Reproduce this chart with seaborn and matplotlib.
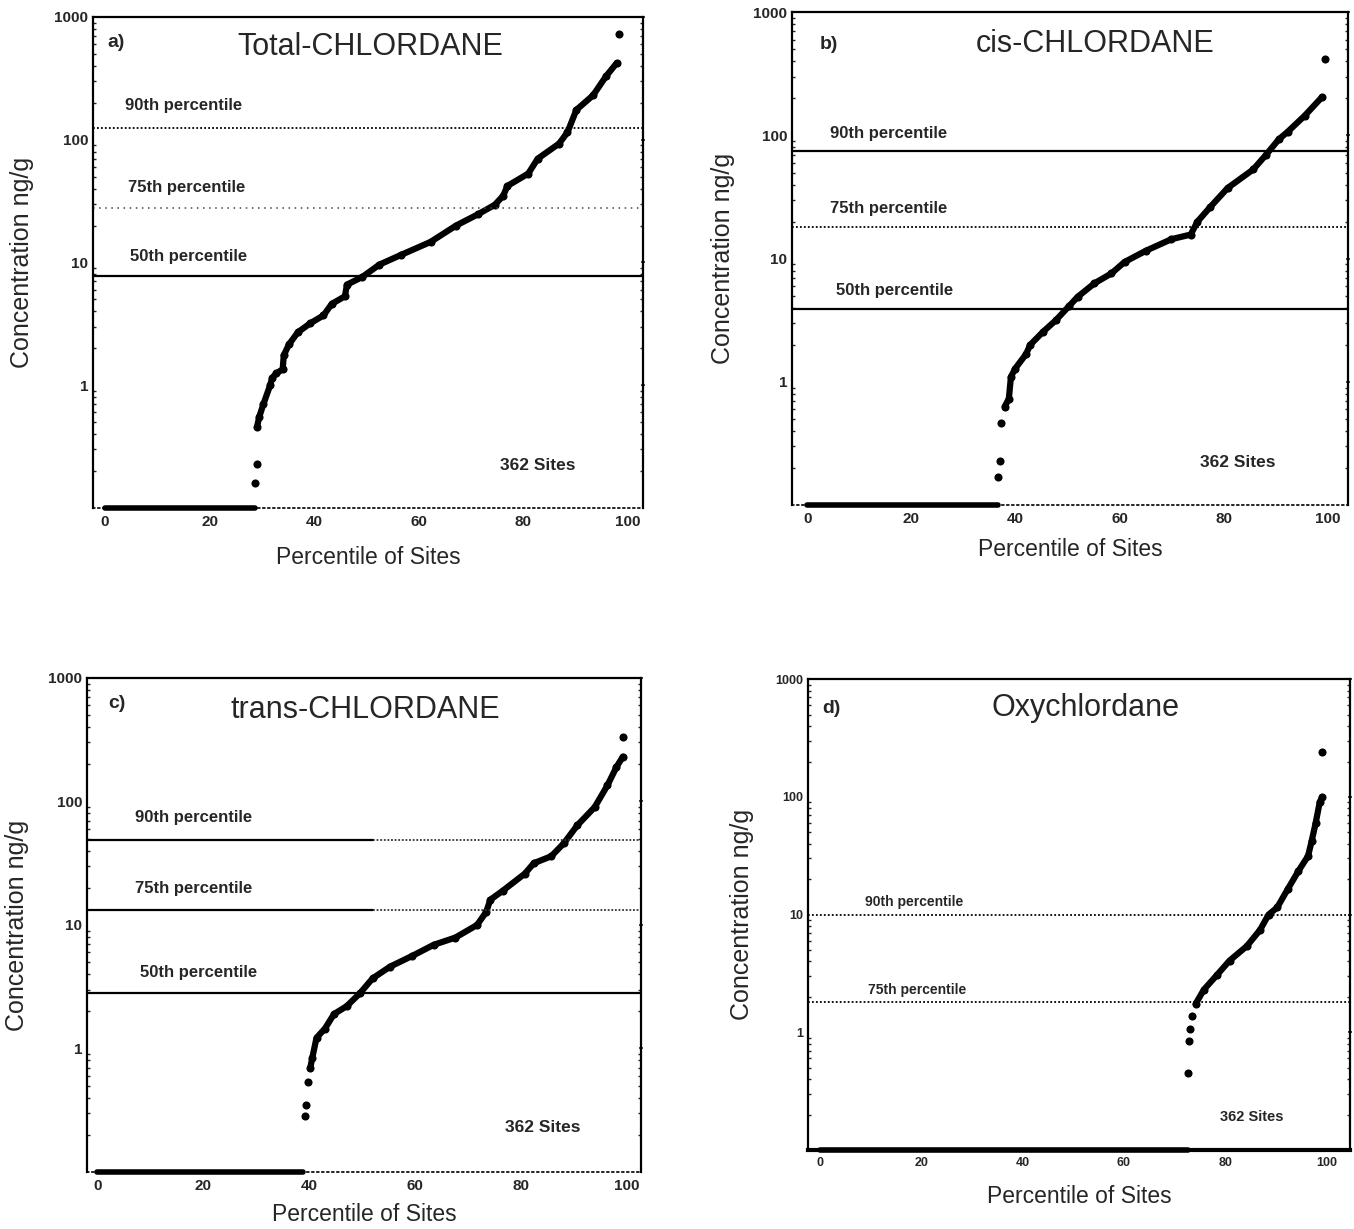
import seaborn as sns
import matplotlib.pyplot as plt
import pandas as pd

sns.set_theme(style="white")
plt.rcParams['font.family'] = ['Liberation Sans', 'DejaVu Sans']

# rank percentile vs concentration (ng/g)
# a) Total-CHLORDANE
nd_a = 28.7
iso_pct_a = [28.7, 29.1]
iso_conc_a = [0.16, 0.23]
pct_a = [29.1, 29.5, 30.3, 31.6, 32, 32.8, 34, 34.2, 35.2, 36.9, 39.3, 41.8, 43.4, 45.9, 46.3,
         49.2, 52.5, 56.6, 62.3, 67.2, 71.3, 74.6, 76.2, 77, 81, 82.8, 86.9, 88.5, 90.2, 93.4,
         95.9, 97.9]
conc_a = [0.46, 0.55, 0.7, 1.0, 1.15, 1.25, 1.35, 1.75, 2.15, 2.7, 3.2, 3.7, 4.6, 5.3, 6.6,
          7.6, 9.6, 11.5, 14.7, 20, 24.6, 29.5, 35, 42, 53, 70, 93, 115, 175, 230, 330, 420]
top_a = (98.4, 730)
lines_a = [125, 27.7, 7.7]

# b) cis-CHLORDANE
nd_b = 36.6
iso_pct_b = [36.6, 37, 37.2]
iso_conc_b = [0.169, 0.23, 0.46]
pct_b = [37.9, 38.7, 39.1, 39.9, 42, 42.8, 45.3, 47.7, 50.2, 51.9, 55.1, 58.4, 60.9, 65, 69.9,
         73.6, 74.9, 77.4, 80.7, 85.6, 88.1, 90.5, 92.2, 95.5, 98.8]
conc_b = [0.63, 0.73, 1.1, 1.28, 1.68, 2.0, 2.56, 3.16, 4.1, 4.9, 6.3, 7.6, 9.4, 11.6, 14.4,
          15.7, 20, 26.4, 37.5, 53, 70, 93, 107, 145, 205]
top_b = (99.3, 420)
lines_b = [75, 18.2, 3.9]

# c) trans-CHLORDANE
nd_c = 38.9
iso_pct_c = [39.2, 39.5, 39.8]
iso_conc_c = [0.286, 0.35, 0.54]
pct_c = [40.2, 40.6, 41.4, 43, 44.7, 47.1, 49.6, 52, 55.3, 59.4, 63.5, 67.6, 71.7, 73.4, 74.2,
         76.6, 80.7, 82.4, 85.7, 88.1, 90.6, 93.9, 96.3, 98, 99.2]
conc_c = [0.69, 0.84, 1.22, 1.45, 1.9, 2.2, 2.8, 3.7, 4.6, 5.6, 6.9, 7.9, 10, 12.7, 16,
          19, 26, 31.6, 36, 46, 64, 90, 135, 190, 230]
top_c = (99.2, 330)
lines_c = [49, 13.3, 2.8]

# d) Oxychlordane
nd_d = 72.7
iso_pct_d = [72.7, 72.9, 73.1, 73.5]
iso_conc_d = [0.45, 0.84, 1.07, 1.37]
pct_d = [74.2, 75.8, 78.4, 80.9, 84.3, 86.9, 88.6, 90.3, 92.4, 94.5, 96.4, 97.1, 97.9, 98.7, 99.2]
conc_d = [1.75, 2.3, 3.07, 4.07, 5.4, 7.4, 10, 11.5, 16.5, 23.5, 31.5, 42, 60, 90, 100]
top_d = (99.2, 240)
lines_d = [10, 1.8]

titles = ["Total-CHLORDANE", "cis-CHLORDANE", "trans-CHLORDANE", "Oxychlordane"]
tags = ["a)", "b)", "c)", "d)"]
line_names = ["90th percentile", "75th percentile", "50th percentile"]
yticks = [1, 10, 100, 1000]
ytick_labels = ["1", "10", "100", "1000"]
xticks = [0, 20, 40, 60, 80, 100]

fig = plt.figure(figsize=(13.54, 12.29), dpi=100)

panels = [
    dict(rect=[0.0687, 0.5867, 0.406, 0.3995], xlim=(-2.3, 102.9), nd=nd_a,
         iso=(iso_pct_a, iso_conc_a), main=(pct_a, conc_a), top=top_a, lines=lines_a,
         styles=["dot", "sparse", "solid"], split=None,
         label_pos=[(0.058, 0.819), (0.064, 0.652), (0.067, 0.513)], sites=(0.74, 0.086),
         tag=(0.027, 0.949), title=(0.504, 0.939), ylab=-0.108, xlab=-0.077, fs=12, tfs=11),
    dict(rect=[0.585, 0.589, 0.4106, 0.401], xlim=(-2.9, 103.8), nd=nd_b,
         iso=(iso_pct_b, iso_conc_b), main=(pct_b, conc_b), top=top_b, lines=lines_b,
         styles=["solid", "dot", "solid"], split=None,
         label_pos=[(0.068, 0.755), (0.068, 0.602), (0.079, 0.436)], sites=(0.734, 0.087),
         tag=(0.05, 0.935), title=(0.545, 0.935), ylab=-0.103, xlab=-0.067, fs=12, tfs=11),
    dict(rect=[0.0643, 0.0464, 0.409, 0.402], xlim=(-1.9, 102.6), nd=nd_c,
         iso=(iso_pct_c, iso_conc_c), main=(pct_c, conc_c), top=top_c, lines=lines_c,
         styles=["split", "split", "solid"], split=52,
         label_pos=[(0.087, 0.717), (0.087, 0.573), (0.096, 0.403)], sites=(0.755, 0.091),
         tag=(0.038, 0.949), title=(0.502, 0.935), ylab=-0.105, xlab=-0.063, fs=12, tfs=11),
    dict(rect=[0.5968, 0.0643, 0.4003, 0.383], xlim=(-2.4, 104.7), nd=nd_d,
         iso=(iso_pct_d, iso_conc_d), main=(pct_d, conc_d), top=top_d, lines=lines_d,
         styles=["dot", "dot"], split=None,
         label_pos=[(0.105, 0.527), (0.11, 0.34)], sites=(0.76, 0.07),
         tag=(0.026, 0.938), title=(0.511, 0.938), ylab=-0.1, xlab=-0.074, fs=10, tfs=9),
]

for i, p in enumerate(panels):
    ax = fig.add_axes(p["rect"])
    ax.set_yscale("log")
    ax.set_xlim(*p["xlim"])
    ax.set_ylim(0.1, 1000)

    # non-detects plotted at the bottom of the scale
    nd = pd.DataFrame({"x": [0, p["nd"]], "y": [0.1, 0.1]})
    sns.lineplot(data=nd, x="x", y="y", ax=ax, color="black", linewidth=4,
                 estimator=None, sort=False, clip_on=False)

    main = pd.DataFrame({"x": p["main"][0], "y": p["main"][1]})
    sns.lineplot(data=main, x="x", y="y", ax=ax, color="black", linewidth=4.5,
                 estimator=None, sort=False)
    pts = pd.DataFrame({"x": p["iso"][0] + p["main"][0] + [p["top"][0]],
                        "y": p["iso"][1] + p["main"][1] + [p["top"][1]]})
    sns.scatterplot(data=pts, x="x", y="y", ax=ax, color="black", s=34,
                    marker="o", edgecolor="black", linewidth=0)

    x0, x1 = p["xlim"]
    for val, st in zip(p["lines"], p["styles"]):
        if st == "solid":
            ax.plot([x0, x1], [val, val], color="black", lw=1.6)
        elif st == "dot":
            ax.plot([x0, x1], [val, val], color="black", lw=1.3, ls=(0, (1, 1.2)))
        elif st == "sparse":
            ax.plot([x0, x1], [val, val], color="#444444", lw=1.1, ls=(0, (1, 3)))
        else:
            ax.plot([x0, p["split"]], [val, val], color="black", lw=1.6)
            ax.plot([p["split"], x1], [val, val], color="#333333", lw=1.3, ls=(0, (1, 1)))

    for name, (tx, ty) in zip(line_names, p["label_pos"]):
        ax.text(tx, ty, name, transform=ax.transAxes, fontsize=p["fs"],
                fontweight="bold", va="center", ha="left")
    ax.text(*p["sites"], "362 Sites", transform=ax.transAxes, fontsize=p["fs"] + 0.5,
            fontweight="bold", va="center", ha="left")
    ax.text(*p["tag"], tags[i], transform=ax.transAxes, fontsize=14,
            fontweight="bold", va="center", ha="left")
    ax.text(*p["title"], titles[i], transform=ax.transAxes, fontsize=22,
            va="center", ha="center")

    ax.set_yticks(yticks)
    ax.set_yticklabels(ytick_labels)
    ax.set_xticks(xticks)
    ax.tick_params(axis="both", which="major", direction="out", length=3, width=1.2,
                   labelsize=p["tfs"], pad=2)
    ax.tick_params(axis="y", which="minor", direction="in", length=2.5, width=1,
                   left=True, right=True)
    ax.tick_params(axis="y", which="major", right=True, direction="inout")
    for lab in ax.get_xticklabels() + ax.get_yticklabels():
        lab.set_fontweight("bold")

    ax.set_xlabel("Percentile of Sites", fontsize=16.5)
    ax.set_ylabel("Concentration ng/g", fontsize=18)
    ax.yaxis.set_label_coords(p["ylab"], 0.5)
    ax.xaxis.set_label_coords(0.5, p["xlab"])

    for side, sp in ax.spines.items():
        sp.set_visible(True)
        sp.set_color("black")
        sp.set_linewidth(1.6)
    if i < 3:
        ax.spines["bottom"].set_linestyle((0, (1, 2)))
        ax.spines["bottom"].set_linewidth(1.2)
    else:
        ax.spines["bottom"].set_linewidth(3)

fig.savefig("out.png", dpi=100, facecolor="white")
